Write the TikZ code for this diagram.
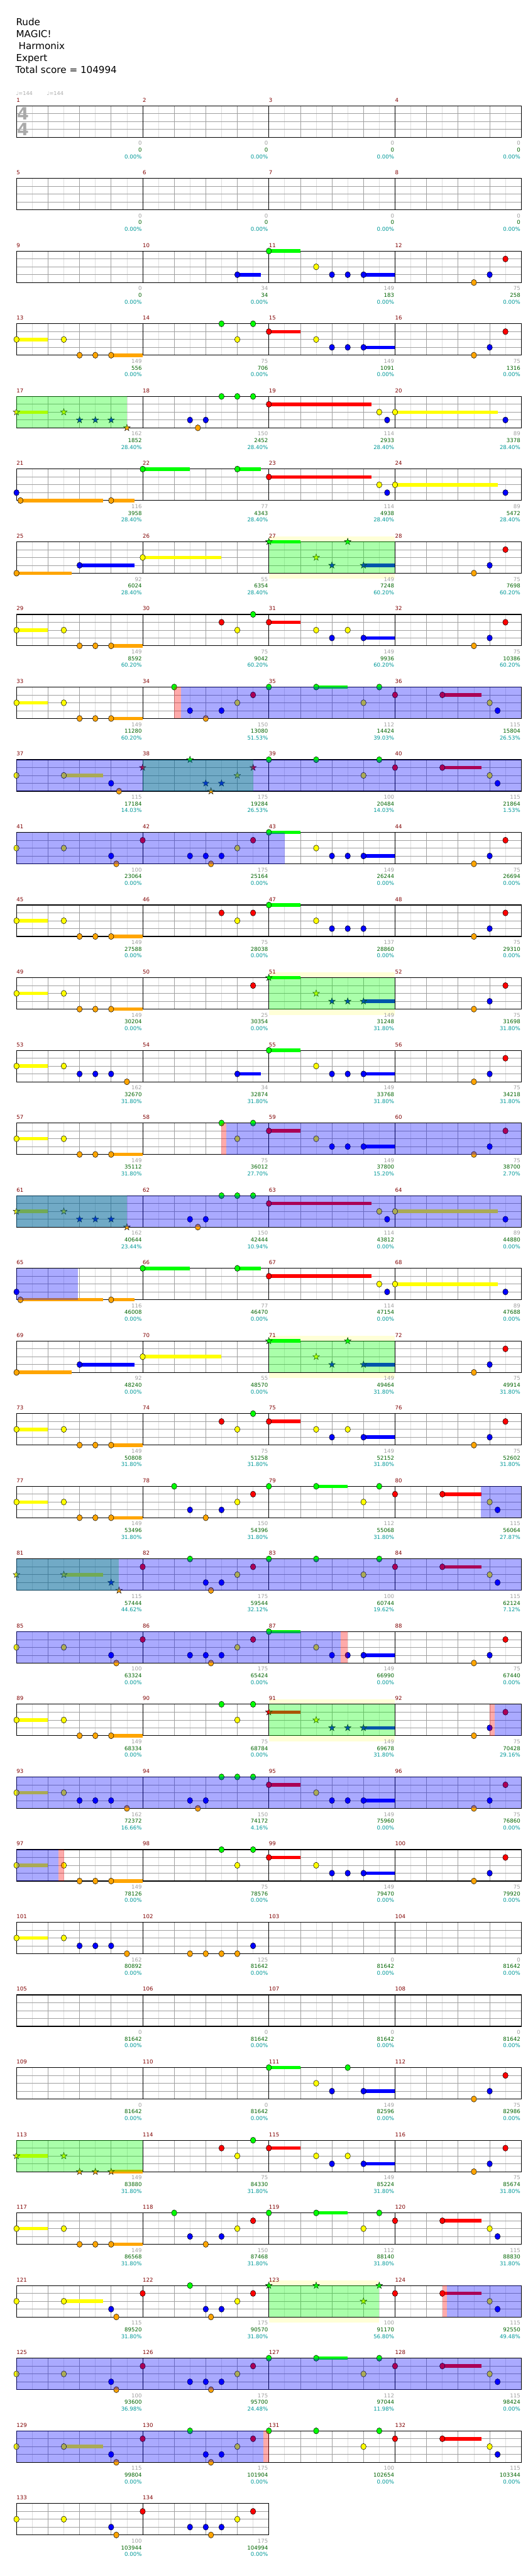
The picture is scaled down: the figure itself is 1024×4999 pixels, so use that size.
\documentclass[tikz,border=0pt]{standalone}
\usepackage{fontspec}
\setmainfont{DejaVu Sans}
\definecolor{lane0}{RGB}{0,255,0}
\definecolor{lane1}{RGB}{255,0,0}
\definecolor{lane2}{RGB}{255,255,0}
\definecolor{lane3}{RGB}{0,0,255}
\definecolor{lane4}{RGB}{255,165,0}
\definecolor{glight}{RGB}{222,222,222}
\definecolor{ggray}{RGB}{160,160,160}
\definecolor{mred}{RGB}{128,0,0}
\definecolor{sgrayc}{RGB}{160,160,160}
\definecolor{sgreenc}{RGB}{0,100,0}
\definecolor{stealc}{RGB}{0,153,153}
\definecolor{bandyellow}{RGB}{255,255,215}
\definecolor{tsgray}{RGB}{170,170,170}
\tikzset{
 gridlight/.style={draw=glight, line width=0.8pt},
 gridgray/.style={draw=ggray, line width=0.9pt},
 measline/.style={draw=black, line width=0.9pt},
 staffborder/.style={draw=black, line width=1.4pt},
 smallfont/.style={font=\fontsize{10.5}{12}\selectfont},
 mnum/.style={smallfont, anchor=base west, inner sep=0pt, text=mred},
 sgray/.style={smallfont, anchor=base east, inner sep=0pt, text=sgrayc},
 sgreen/.style={smallfont, anchor=base east, inner sep=0pt, text=sgreenc},
 steal/.style={smallfont, anchor=base east, inner sep=0pt, text=stealc},
 titletext/.style={anchor=base west, inner sep=0pt, font=\fontsize{18.5}{23}\selectfont},
 tempotext/.style={anchor=base west, inner sep=0pt, text=tsgray, font=\fontsize{10}{12}\selectfont},
 tsig/.style={anchor=center, inner sep=0pt, text=tsgray, font=\fontsize{33}{33}\selectfont\bfseries},
 notehead/.style={draw=black, line width=0.6pt},
 overlay/.style={fill opacity=0.3333},
}
% row geometry: staff top = 205.3+(row-1)*141, lane spacing 15.25, eighth = 30.625
\newcommand{\GNote}[3]{%
 \filldraw[notehead, fill=lane#3] ({32+(#2)*30.625},{205.3+(#1-1)*141+(#3)*15.25}) ellipse [x radius=5.2, y radius=5.9];}
\newcommand{\GSusBar}[4]{%
 \fill[lane#3] ({32+(#2)*30.625},{205.3+(#1-1)*141+(#3)*15.25-3.4}) rectangle ({32+(#4)*30.625},{205.3+(#1-1)*141+(#3)*15.25+3.4});}
\newcommand{\GSus}[4]{\GSusBar{#1}{#2}{#3}{#4}\GNote{#1}{#2}{#3}}
\newcommand{\GStar}[3]{%
 \filldraw[notehead, line width=0.5pt, fill=lane#3, shift={({32+(#2)*30.625},{205.3+(#1-1)*141+(#3)*15.25})}]
 (-90:6.8) -- (-54:2.7) -- (-18:6.8) -- (18:2.7) -- (54:6.8) -- (90:2.7) -- (126:6.8) -- (162:2.7) -- (198:6.8) -- (234:2.7) -- cycle;}
\newcommand{\GStarSus}[4]{\GSusBar{#1}{#2}{#3}{#4}\GStar{#1}{#2}{#3}}
\newcommand{\GOver}[4]{%
 \fill[#4, overlay] ({32+(#2)*30.625},{205.3+(#1-1)*141}) rectangle ({32+(#3)*30.625},{205.3+(#1-1)*141+61});}
\newcommand{\GBand}[3]{%
 \pgfmathsetmacro\GBT{205.3+(#1-1)*141}%
 \fill[bandyellow] ({32+(#2)*30.625},{\GBT-10}) rectangle ({32+(#3)*30.625},\GBT);
 \fill[bandyellow] ({32+(#2)*30.625},{\GBT+61}) rectangle ({32+(#3)*30.625},{\GBT+72});}
\newcommand{\GRow}[3]{%
 \pgfmathsetmacro\GT{205.3+(#1-1)*141}%
 \pgfmathsetmacro\GB{\GT+61}%
 \pgfmathsetmacro\GR{32+#2*245}%
 \pgfmathtruncatemacro\GEm{8*#2-1}%
 \pgfmathtruncatemacro\GE{8*#2}%
 \pgfmathtruncatemacro\GNm{#2-1}%
 \foreach \i in {1,3,...,\GEm} {\draw[gridlight] ({32+\i*30.625},\GT) -- ({32+\i*30.625},\GB);}
 \foreach \l in {1,2,3} {\draw[gridgray] (32,{\GT+\l*15.25}) -- (\GR,{\GT+\l*15.25});}
 \foreach \i in {2,4,...,\GE} {\draw[gridgray] ({32+\i*30.625},\GT) -- ({32+\i*30.625},\GB);}
 \foreach \j in {1,...,\GNm} {\draw[measline] ({32+\j*245},\GT) -- ({32+\j*245},\GB);}
 \draw[staffborder] (32,\GT) rectangle (\GR,\GB);
 \foreach \j in {0,...,\GNm} {\pgfmathtruncatemacro\mm{#3+\j}\node[mnum] (mn-\mm) at ({32+\j*245},{\GT-7.4}) {\mm};}
}
\newcommand{\GScores}[2]{%
 \pgfmathsetmacro\GSB{205.3+(#1-1)*141+61}%
 \foreach \g/\c/\p [count=\j] in {#2} {%
  \node[sgray] (sg-#1-\j) at ({32+\j*245-1.5},{\GSB+15.4}) {\g};
  \node[sgreen] (sc-#1-\j) at ({32+\j*245-1.5},{\GSB+28.4}) {\c};
  \node[steal] (sp-#1-\j) at ({32+\j*245-1.5},{\GSB+41.4}) {\p\%};}}
% repeated patterns
\newcommand{\GPatEnd}[1]{\GNote{#1}{29}{4}\GNote{#1}{30}{3}\GNote{#1}{31}{1}}
\newcommand{\GPatA}[1]{\GSus{#1}{0}{2}{2}\GNote{#1}{3}{2}\GNote{#1}{4}{4}\GNote{#1}{5}{4}\GSus{#1}{6}{4}{8}}
\newcommand{\GPatBr}[1]{\GSus{#1}{16}{1}{18}\GNote{#1}{19}{2}\GNote{#1}{20}{3}\GNote{#1}{21}{3}\GSus{#1}{22}{3}{24}\GPatEnd{#1}}
\newcommand{\GPatBg}[1]{\GSus{#1}{16}{0}{18}\GNote{#1}{19}{2}\GNote{#1}{20}{3}\GNote{#1}{21}{3}\GSus{#1}{22}{3}{24}\GPatEnd{#1}}
\newcommand{\GPatC}[1]{\GNote{#1}{16}{0}\GSus{#1}{19}{0}{21}\GNote{#1}{22}{2}\GNote{#1}{23}{0}\GNote{#1}{24}{1}\GSus{#1}{27}{1}{29.5}\GNote{#1}{30}{2}\GNote{#1}{30.5}{3}}
\newcommand{\GPatCn}[1]{\GNote{#1}{16}{0}\GNote{#1}{19}{0}\GNote{#1}{22}{2}\GNote{#1}{23}{0}\GNote{#1}{24}{1}\GSus{#1}{27}{1}{29.5}\GNote{#1}{30}{2}\GNote{#1}{30.5}{3}}
\newcommand{\GPatD}[1]{\GNote{#1}{0}{2}\GNote{#1}{3}{2}\GNote{#1}{6}{3}\GNote{#1}{6.33}{4}\GNote{#1}{8}{1}\GNote{#1}{11}{3}\GNote{#1}{12}{3}\GNote{#1}{12.33}{4}\GNote{#1}{13}{3}\GNote{#1}{14}{2}\GNote{#1}{15}{1}}
\newcommand{\GPatF}[1]{\GNote{#1}{0}{3}\GSus{#1}{0.25}{4}{5.5}\GSus{#1}{6}{4}{7.5}\GSus{#1}{8}{0}{11}\GSus{#1}{14}{0}{15.5}\GSus{#1}{16}{1}{22.5}\GNote{#1}{23}{2}\GNote{#1}{23.5}{3}\GSus{#1}{24}{2}{30.5}\GNote{#1}{31}{3}}
\newcommand{\GPatG}[1]{\GSus{#1}{0}{4}{3.5}\GSus{#1}{4}{3}{7.5}\GSus{#1}{8}{2}{13}\GStarSus{#1}{16}{0}{18}\GStar{#1}{19}{2}\GStar{#1}{20}{3}\GStar{#1}{21}{0}\GStarSus{#1}{22}{3}{24}\GPatEnd{#1}}
\newcommand{\GPatH}[1]{\GPatA{#1}\GNote{#1}{13}{1}\GNote{#1}{14}{2}\GNote{#1}{15}{0}\GSus{#1}{16}{1}{18}\GNote{#1}{19}{2}\GNote{#1}{20}{3}\GNote{#1}{21}{2}\GSus{#1}{22}{3}{24}\GPatEnd{#1}}
\newcommand{\GPatI}[1]{\GNote{#1}{10}{0}\GNote{#1}{11}{3}\GNote{#1}{12}{4}\GNote{#1}{13}{3}\GNote{#1}{14}{2}\GNote{#1}{15}{1}}
\newcommand{\GPatJ}[1]{\GNote{#1}{11}{3}\GNote{#1}{11.5}{4}\GNote{#1}{12}{3}\GNote{#1}{13}{0}\GNote{#1}{14}{0}\GNote{#1}{15}{0}}
\begin{document}
\begin{tikzpicture}[x=1pt,y=-1pt]
\fill[white] (0,0) rectangle (1024,4999);
\useasboundingbox (0,0) rectangle (1024,4999);
% header
\node[titletext] (t1) at (31,49) {Rude};
\node[titletext] (t2) at (31,72.2) {MAGIC!};
\node[titletext] (t3) at (36,95.4) {Harmonix};
\node[titletext] (t4) at (31,118.6) {Expert};
\node[titletext] (t5) at (30,141.8) {Total score = 104994};
\node[tempotext] (tp1) at (31,185) {♩=144};
\node[tempotext] (tp2) at (91,185) {♩=144};
% row 1-2
\GRow{1}{4}{1}
\node[tsig] (ts1) at (44.5,220.5) {4};
\node[tsig] (ts2) at (44.5,250.5) {4};
\GScores{1}{0/0/0.00, 0/0/0.00, 0/0/0.00, 0/0/0.00}
\GRow{2}{4}{5}
\GScores{2}{0/0/0.00, 0/0/0.00, 0/0/0.00, 0/0/0.00}
% row 3
\GRow{3}{4}{9}
\GSus{3}{14}{3}{15.5}\GSus{3}{16}{0}{18}\GNote{3}{19}{2}\GNote{3}{20}{3}\GNote{3}{21}{3}\GSus{3}{22}{3}{24}\GPatEnd{3}
\GScores{3}{0/0/0.00, 34/34/0.00, 149/183/0.00, 75/258/0.00}
% row 4
\GRow{4}{4}{13}
\GPatA{4}\GNote{4}{13}{0}\GNote{4}{14}{2}\GNote{4}{15}{0}\GPatBr{4}
\GScores{4}{149/556/0.00, 75/706/0.00, 149/1091/0.00, 75/1316/0.00}
% row 5
\GRow{5}{4}{17}
\GStarSus{5}{0}{2}{2}\GStar{5}{3}{2}\GStar{5}{4}{3}\GStar{5}{5}{3}\GStar{5}{6}{3}\GStar{5}{7}{4}
\GPatJ{5}\GSus{5}{16}{1}{22.5}\GNote{5}{23}{2}\GNote{5}{23.5}{3}\GSus{5}{24}{2}{30.5}\GNote{5}{31}{3}
\GOver{5}{0}{7}{green}
\GScores{5}{162/1852/28.40, 150/2452/28.40, 114/2933/28.40, 89/3378/28.40}
% row 6
\GRow{6}{4}{21}
\GPatF{6}
\GScores{6}{116/3958/28.40, 77/4343/28.40, 114/4938/28.40, 89/5472/28.40}
% row 7
\GBand{7}{16}{24}
\GRow{7}{4}{25}
\GPatG{7}
\GOver{7}{16}{24}{green}
\GScores{7}{92/6024/28.40, 55/6354/28.40, 149/7248/60.20, 75/7698/60.20}
% row 8
\GRow{8}{4}{29}
\GPatH{8}
\GScores{8}{149/8592/60.20, 75/9042/60.20, 149/9936/60.20, 75/10386/60.20}
% row 9
\GRow{9}{4}{33}
\GPatA{9}\GPatI{9}\GPatC{9}
\GOver{9}{10}{10.43}{red}\GOver{9}{10.43}{32}{blue}
\GScores{9}{149/11280/60.20, 150/13080/51.53, 112/14424/39.03, 115/15804/26.53}
% row 10
\GRow{10}{4}{37}
\GNote{10}{0}{2}\GSus{10}{3}{2}{5.5}\GNote{10}{6}{3}\GNote{10}{6.5}{4}
\GStar{10}{8}{1}\GStar{10}{11}{0}\GStar{10}{12}{3}\GStar{10}{12.33}{4}\GStar{10}{13}{3}\GStar{10}{14}{2}\GStar{10}{15}{1}
\GPatCn{10}
\GOver{10}{8}{15}{green}\GOver{10}{0}{32}{blue}
\GScores{10}{115/17184/14.03, 175/19284/26.53, 100/20484/14.03, 115/21864/1.53}
% row 11
\GRow{11}{4}{41}
\GPatD{11}\GPatBg{11}
\GOver{11}{0}{17}{blue}
\GScores{11}{100/23064/0.00, 175/25164/0.00, 149/26244/0.00, 75/26694/0.00}
% row 12
\GRow{12}{4}{45}
\GPatA{12}\GNote{12}{13}{1}\GNote{12}{14}{2}\GNote{12}{15}{1}\GSus{12}{16}{0}{18}\GNote{12}{19}{2}\GNote{12}{20}{3}\GNote{12}{21}{3}\GNote{12}{22}{3}\GPatEnd{12}
\GScores{12}{149/27588/0.00, 75/28038/0.00, 137/28860/0.00, 75/29310/0.00}
% row 13
\GBand{13}{16}{24}
\GRow{13}{4}{49}
\GPatA{13}\GNote{13}{15}{1}\GStarSus{13}{16}{0}{18}\GStar{13}{19}{2}\GStar{13}{20}{3}\GStar{13}{21}{3}\GStarSus{13}{22}{3}{24}\GPatEnd{13}
\GOver{13}{16}{24}{green}
\GScores{13}{149/30204/0.00, 25/30354/0.00, 149/31248/31.80, 75/31698/31.80}
% row 14
\GRow{14}{4}{53}
\GSus{14}{0}{2}{2}\GNote{14}{3}{2}\GNote{14}{4}{3}\GNote{14}{5}{3}\GNote{14}{6}{3}\GNote{14}{7}{4}\GSus{14}{14}{3}{15.5}\GPatBg{14}
\GScores{14}{162/32670/31.80, 34/32874/31.80, 149/33768/31.80, 75/34218/31.80}
% row 15
\GRow{15}{4}{57}
\GPatA{15}\GNote{15}{13}{0}\GNote{15}{14}{2}\GNote{15}{15}{0}\GPatBr{15}
\GOver{15}{13}{13.32}{red}\GOver{15}{13.32}{32}{blue}
\GScores{15}{149/35112/31.80, 75/36012/27.70, 149/37800/15.20, 75/38700/2.70}
% row 16
\GRow{16}{4}{61}
\GStarSus{16}{0}{2}{2}\GStar{16}{3}{2}\GStar{16}{4}{3}\GStar{16}{5}{3}\GStar{16}{6}{3}\GStar{16}{7}{4}
\GPatJ{16}\GSus{16}{16}{1}{22.5}\GNote{16}{23}{2}\GNote{16}{23.5}{3}\GSus{16}{24}{2}{30.5}\GNote{16}{31}{3}
\GOver{16}{0}{7}{green}\GOver{16}{0}{32}{blue}
\GScores{16}{162/40644/23.44, 150/42444/10.94, 114/43812/0.00, 89/44880/0.00}
% row 17
\GRow{17}{4}{65}
\GPatF{17}
\GOver{17}{0}{3.9}{blue}
\GScores{17}{116/46008/0.00, 77/46470/0.00, 114/47154/0.00, 89/47688/0.00}
% row 18
\GBand{18}{16}{24}
\GRow{18}{4}{69}
\GPatG{18}
\GOver{18}{16}{24}{green}
\GScores{18}{92/48240/0.00, 55/48570/0.00, 149/49464/31.80, 75/49914/31.80}
% row 19
\GRow{19}{4}{73}
\GPatH{19}
\GScores{19}{149/50808/31.80, 75/51258/31.80, 149/52152/31.80, 75/52602/31.80}
% row 20
\GRow{20}{4}{77}
\GPatA{20}\GPatI{20}\GPatC{20}
\GOver{20}{29.45}{32}{blue}
\GScores{20}{149/53496/31.80, 150/54396/31.80, 112/55068/31.80, 115/56064/27.87}
% row 21
\GRow{21}{4}{81}
\GStar{21}{0}{2}\GStarSus{21}{3}{2}{5.5}\GStar{21}{6}{3}\GStar{21}{6.5}{4}
\GNote{21}{8}{1}\GNote{21}{11}{0}\GNote{21}{12}{3}\GNote{21}{12.33}{4}\GNote{21}{13}{3}\GNote{21}{14}{2}\GNote{21}{15}{1}
\GPatCn{21}
\GOver{21}{0}{6.5}{green}\GOver{21}{0}{32}{blue}
\GScores{21}{115/57444/44.62, 175/59544/32.12, 100/60744/19.62, 115/62124/7.12}
% row 22
\GRow{22}{4}{85}
\GPatD{22}\GPatBg{22}
\GOver{22}{0}{20.55}{blue}\GOver{22}{20.55}{21}{red}
\GScores{22}{100/63324/0.00, 175/65424/0.00, 149/66990/0.00, 75/67440/0.00}
% row 23
\GBand{23}{16}{24}
\GRow{23}{4}{89}
\GPatA{23}\GNote{23}{13}{0}\GNote{23}{14}{2}\GNote{23}{15}{0}
\GStarSus{23}{16}{1}{18}\GStar{23}{19}{2}\GStar{23}{20}{3}\GStar{23}{21}{3}\GStarSus{23}{22}{3}{24}\GPatEnd{23}
\GOver{23}{16}{24}{green}\GOver{23}{30}{30.3}{red}\GOver{23}{30.3}{32}{blue}
\GScores{23}{149/68334/0.00, 75/68784/0.00, 149/69678/31.80, 75/70428/29.16}
% row 24
\GRow{24}{4}{93}
\GSus{24}{0}{2}{2}\GNote{24}{3}{2}\GNote{24}{4}{3}\GNote{24}{5}{3}\GNote{24}{6}{3}\GNote{24}{7}{4}\GPatJ{24}\GPatBr{24}
\GOver{24}{0}{32}{blue}
\GScores{24}{162/72372/16.66, 150/74172/4.16, 149/75960/0.00, 75/76860/0.00}
% row 25
\GRow{25}{4}{97}
\GPatA{25}\GNote{25}{13}{0}\GNote{25}{14}{2}\GNote{25}{15}{0}\GPatBr{25}
\GOver{25}{0}{2.66}{blue}\GOver{25}{2.66}{3}{red}
\GScores{25}{149/78126/0.00, 75/78576/0.00, 149/79470/0.00, 75/79920/0.00}
% row 26
\GRow{26}{4}{101}
\GSus{26}{0}{2}{2}\GNote{26}{3}{2}\GNote{26}{4}{3}\GNote{26}{5}{3}\GNote{26}{6}{3}\GNote{26}{7}{4}
\GNote{26}{11}{4}\GNote{26}{12}{4}\GNote{26}{13}{4}\GNote{26}{14}{4}\GNote{26}{15}{3}
\GScores{26}{162/80892/0.00, 125/81642/0.00, 0/81642/0.00, 0/81642/0.00}
% row 27
\GRow{27}{4}{105}
\GScores{27}{0/81642/0.00, 0/81642/0.00, 0/81642/0.00, 0/81642/0.00}
% row 28
\GRow{28}{4}{109}
\GSus{28}{16}{0}{18}\GNote{28}{19}{2}\GNote{28}{20}{3}\GNote{28}{21}{0}\GSus{28}{22}{3}{24}\GPatEnd{28}
\GScores{28}{0/81642/0.00, 0/81642/0.00, 149/82596/0.00, 75/82986/0.00}
% row 29
\GRow{29}{4}{113}
\GStarSus{29}{0}{2}{2}\GStar{29}{3}{2}\GStar{29}{4}{4}\GStar{29}{5}{4}\GStarSus{29}{6}{4}{8}
\GNote{29}{13}{1}\GNote{29}{14}{2}\GNote{29}{15}{0}\GSus{29}{16}{1}{18}\GNote{29}{19}{2}\GNote{29}{20}{3}\GNote{29}{21}{2}\GSus{29}{22}{3}{24}\GPatEnd{29}
\GOver{29}{0}{8}{green}
\GScores{29}{149/83880/31.80, 75/84330/31.80, 149/85224/31.80, 75/85674/31.80}
% row 30
\GRow{30}{4}{117}
\GPatA{30}\GPatI{30}\GPatC{30}
\GScores{30}{149/86568/31.80, 150/87468/31.80, 112/88140/31.80, 115/88830/31.80}
% row 31
\GBand{31}{16}{23}
\GRow{31}{4}{121}
\GNote{31}{0}{2}\GSus{31}{3}{2}{5.5}\GNote{31}{6}{3}\GNote{31}{6.33}{4}\GNote{31}{8}{1}\GNote{31}{11}{0}\GNote{31}{12}{3}\GNote{31}{12.33}{4}\GNote{31}{13}{3}\GNote{31}{14}{2}\GNote{31}{15}{1}
\GStar{31}{16}{0}\GStar{31}{19}{0}\GStar{31}{22}{2}\GStar{31}{23}{0}\GNote{31}{24}{1}\GSus{31}{27}{1}{29.5}\GNote{31}{30}{2}\GNote{31}{30.5}{3}
\GOver{31}{16}{23}{green}\GOver{31}{27}{27.27}{red}\GOver{31}{27.27}{32}{blue}
\GScores{31}{115/89520/31.80, 175/90570/31.80, 100/91170/56.80, 115/92550/49.48}
% row 32
\GRow{32}{4}{125}
\GPatD{32}\GPatC{32}
\GOver{32}{0}{32}{blue}
\GScores{32}{100/93600/36.98, 175/95700/24.48, 112/97044/11.98, 115/98424/0.00}
% row 33
\GRow{33}{4}{129}
\GNote{33}{0}{2}\GSus{33}{3}{2}{5.5}\GNote{33}{6}{3}\GNote{33}{6.33}{4}\GNote{33}{8}{1}\GNote{33}{11}{0}\GNote{33}{12}{3}\GNote{33}{12.33}{4}\GNote{33}{13}{3}\GNote{33}{14}{2}\GNote{33}{15}{1}
\GPatCn{33}
\GOver{33}{0}{15.65}{blue}\GOver{33}{15.65}{16}{red}
\GScores{33}{115/99804/0.00, 175/101904/0.00, 100/102654/0.00, 115/103344/0.00}
% row 34
\GRow{34}{2}{133}
\GPatD{34}
\GScores{34}{100/103944/0.00, 175/104994/0.00}
\end{tikzpicture}
\end{document}
